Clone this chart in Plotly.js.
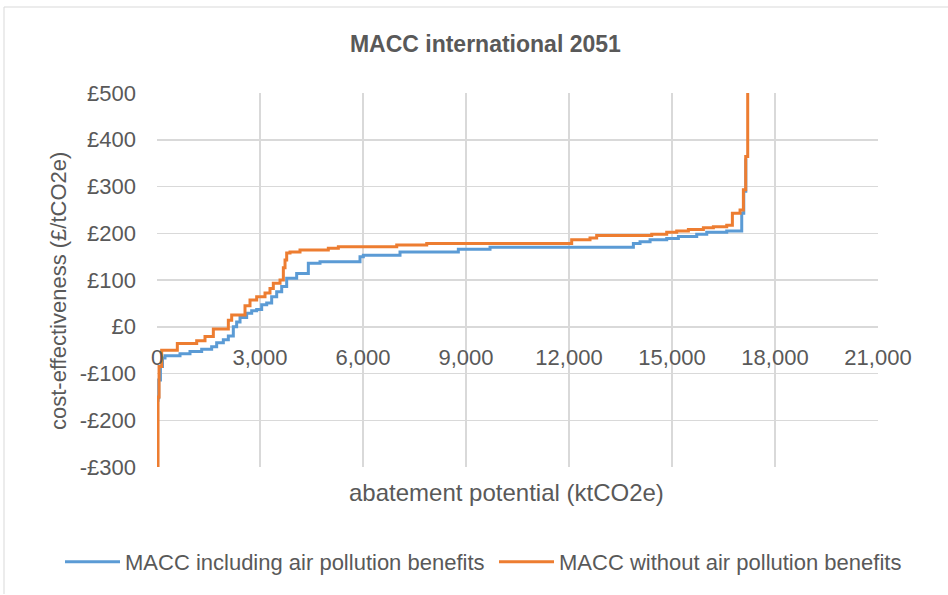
<!DOCTYPE html>
<html>
<head>
<meta charset="utf-8">
<script src="https://cdn.plot.ly/plotly-3.0.1.min.js"></script>
<style>
html,body{margin:0;padding:0;background:#fff;}
#chart{width:948px;height:595px;}
</style>
</head>
<body>
<div id="chart"></div>
<script>
// ---- data ----
const seriesNames = ["MACC including air pollution benefits", "MACC without air pollution benefits"];

// MACC including air pollution benefits: cumulative abatement (ktCO2e) at step start, cost (£/tCO2e)
const inclX = [0, 30, 50, 100, 160, 233, 670, 961, 1301, 1592, 1738, 1932, 2078, 2223, 2320, 2418, 2612, 2758, 2903, 3049, 3195, 3340, 3486, 3632, 3777, 4068, 4408, 4748, 5913, 6010, 7078, 8777, 9700, 13875, 14069, 14361, 14846, 15186, 15720, 16012, 16594, 17031, 17090, 17150];
const inclY = [-157, -152, -114, -85, -67, -62, -58, -53, -48, -43, -34, -28, -20, 0, 10, 20, 29, 34, 37, 47, 51, 64, 75, 86, 104, 114, 136, 139, 150, 153, 160, 166, 170, 178, 182, 186, 189, 193, 198, 202, 205, 243, 290, 360];

// MACC without air pollution benefits
const withoutX = [0, 30, 60, 136, 592, 1156, 1398, 1641, 2078, 2175, 2563, 2709, 2903, 3146, 3291, 3388, 3583, 3680, 3729, 3777, 3874, 4165, 4990, 5282, 6982, 7856, 12078, 12612, 12806, 14409, 14846, 15137, 15477, 15914, 16205, 16594, 16759, 16982, 17079, 17147, 17205];
const withoutY = [-300, -150, -85, -50, -36, -30, -21, -5, 14, 25, 45, 57, 64, 72, 82, 93, 100, 126, 143, 158, 160, 164, 168, 171, 175, 178, 186, 190, 195, 198, 202, 205, 208, 212, 214, 217, 243, 250, 293, 364, 560];

const xTickVals = [0, 3000, 6000, 9000, 12000, 15000, 18000, 21000];
const yTickVals = [-300, -200, -100, 0, 100, 200, 300, 400, 500];
const yTickText = ["-£300", "-£200", "-£100", "£0", "£100", "£200", "£300", "£400", "£500"];

const chartTitle = "MACC international 2051";
const xTitle = "abatement potential (ktCO2e)";
const yTitle = "cost-effectiveness (£/tCO2e)";

// ---- drawing ----
const FONT = "Liberation Sans, Arial, sans-serif";
const TXT = "#595959";
const GRID = "#d9d9d9";

const traces = [
  {x: inclX, y: inclY, name: seriesNames[0], type: "scatter", mode: "lines", legend: "legend",
   line: {color: "#5B9BD5", width: 3, shape: "hv"}},
  {x: withoutX, y: withoutY, name: seriesNames[1], type: "scatter", mode: "lines", legend: "legend2",
   line: {color: "#ED7D31", width: 3, shape: "hv"}}
];

function legendAt(px) {
  return {orientation: "h", xref: "container", yref: "container",
          x: px / 948, xanchor: "left", y: 1 - 562 / 595, yanchor: "middle",
          itemwidth: 55, font: {family: FONT, size: 22, color: TXT},
          bgcolor: "rgba(0,0,0,0)", borderwidth: 0};
}

const layout = {
  width: 948, height: 595,
  paper_bgcolor: "#fff", plot_bgcolor: "#fff",
  margin: {l: 157, r: 70, t: 93, b: 128, pad: 0, autoexpand: false},
  font: {family: FONT, size: 22, color: TXT},
  showlegend: true,
  title: {text: chartTitle, font: {family: FONT, size: 23, color: TXT, weight: 700},
          xref: "container", x: 0.512, xanchor: "center",
          yref: "container", y: 0.926, yanchor: "middle"},
  xaxis: {
    range: [0, 21000], tickvals: xTickVals, tickformat: ",d",
    showgrid: true, gridcolor: GRID, gridwidth: 1.5,
    zeroline: false, showline: false, ticks: "",
    anchor: "free", position: 0.375,
    ticklabelstandoff: 15,
    tickfont: {family: FONT, size: 22, color: TXT}
  },
  yaxis: {
    range: [-300, 500], tickvals: yTickVals, ticktext: yTickText,
    showgrid: true, gridcolor: GRID, gridwidth: 1.5,
    zeroline: false, showline: false, ticks: "",
    ticklabelstandoff: 20,
    tickfont: {family: FONT, size: 22, color: TXT}
  },
  legend: legendAt(60),
  legend2: legendAt(494),
  annotations: [
    {text: xTitle, xref: "paper", yref: "paper", x: (506 - 157) / 721, y: (467 - 492) / 374,
     xanchor: "center", yanchor: "middle", showarrow: false, font: {family: FONT, size: 24, color: TXT}},
    {text: yTitle, xref: "paper", yref: "paper", x: (58 - 157) / 721, y: (467 - 291) / 374,
     xanchor: "center", yanchor: "middle", showarrow: false, textangle: -90,
     font: {family: FONT, size: 22, color: TXT}}
  ],
  shapes: [
    {type: "line", xref: "paper", yref: "paper", x0: (4 - 157) / 721, x1: (4 - 157) / 721,
     y0: (467 - 7) / 374, y1: (467 - 594) / 374, line: {color: GRID, width: 1}},
    {type: "line", xref: "paper", yref: "paper", x0: (4 - 157) / 721, x1: (948 - 157) / 721,
     y0: (467 - 7) / 374, y1: (467 - 7) / 374, line: {color: GRID, width: 1}}
  ]
};

Plotly.newPlot("chart", traces, layout, {staticPlot: true, displayModeBar: false});
</script>
</body>
</html>
